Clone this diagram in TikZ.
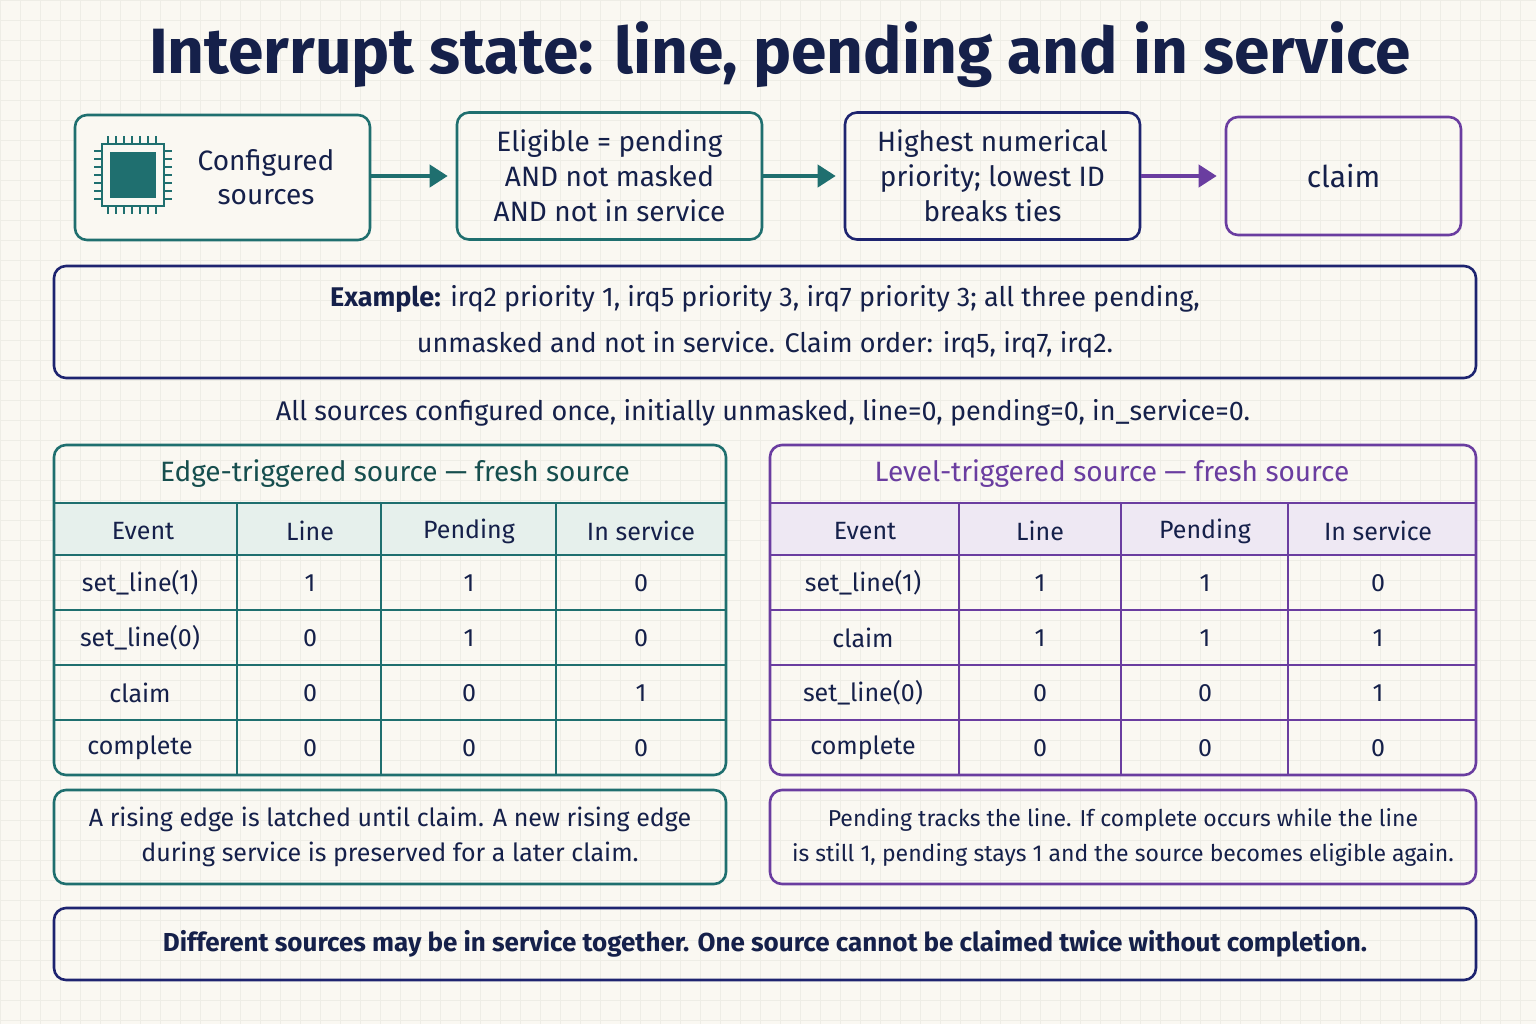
\documentclass[tikz,border=0pt]{standalone}
\usepackage{fontspec}
\setmainfont{Fira Sans}
\usetikzlibrary{arrows.meta}
\definecolor{bg}{HTML}{FAF8F2}
\definecolor{teal}{HTML}{1F6F6F}
\definecolor{navy}{HTML}{1E2470}
\definecolor{purp}{HTML}{6A3DA0}
\definecolor{ink}{HTML}{15204A}
\definecolor{tealfill}{HTML}{E6F0EC}
\definecolor{purfill}{HTML}{EEE8F3}
\definecolor{gridc}{HTML}{EEEDE6}
\tikzset{
 box/.style={draw, line width=1.3pt, rounded corners=6pt},
 txt/.style={text=ink, align=center, font=\fontsize{13}{16}\selectfont, inner sep=0pt},
 arr/.style={line width=2pt, -{Triangle[length=9pt,width=11pt]}},
 cell/.style={text=ink, font=\fontsize{12.5}{15}\selectfont, inner sep=0pt}
}
\begin{document}
\begin{tikzpicture}[x=0.5pt,y=-0.5pt]
\fill[bg] (0,0) rectangle (1536,1024);
\useasboundingbox (0,0) rectangle (1536,1024);
\foreach \i in {0,20,...,1536} \draw[gridc,line width=0.3pt] (\i,0) -- (\i,1024);
\foreach \i in {0,20,...,1024} \draw[gridc,line width=0.3pt] (0,\i) -- (1536,\i);
\node[text=ink,font=\bfseries\fontsize{32}{38}\selectfont] (title) at (780,55) {Interrupt state: line, pending and in service};
% top flow
\draw[box,teal,fill=bg] (75,115) rectangle (370,240);
\coordinate (b1e) at (371,176);
\node[txt,font=\fontsize{14}{17}\selectfont] (b1t) at (266,177) {Configured\\sources};
% chip
\begin{scope}[teal]
\draw[line width=1pt,fill=bg] (102,144) rectangle (164,206);
\fill (110,152) rectangle (156,198);
\foreach \k in {0,...,6}{
 \draw[line width=1pt] (108+\k*8,136) -- (108+\k*8,144);
 \draw[line width=1pt] (108+\k*8,206) -- (108+\k*8,214);
 \draw[line width=1pt] (94,151+\k*8) -- (102,151+\k*8);
 \draw[line width=1pt] (164,151+\k*8) -- (172,151+\k*8);}
\end{scope}
\node[box,teal,minimum width=152.5pt,minimum height=63.5pt,txt,font=\fontsize{14}{17.5}\selectfont] (b2) at (609.5,176) {Eligible = pending\\AND not masked\\AND not in service};
\node[box,navy,minimum width=147.5pt,minimum height=63.5pt,txt,font=\fontsize{14}{17.5}\selectfont] (b3) at (992.5,176) {Highest numerical\\priority; lowest ID\\breaks ties};
\node[box,purp,minimum width=117.5pt,minimum height=59pt,txt,font=\fontsize{15}{18}\selectfont] (b4) at (1343.5,176) {claim};
\draw[arr,teal] (b1e) -- ([xshift=-4pt]b2.west);
\draw[arr,teal] (b2.east) -- ([xshift=-4pt]b3.west);
\draw[arr,purp] (b3.east) -- ([xshift=-4pt]b4.west);
% example
\node[box,navy,minimum width=711pt,minimum height=56pt,txt,font=\fontsize{13.5}{23}\selectfont] (ex) at (765,322) {\textbf{Example:} irq2 priority 1, irq5 priority 3, irq7 priority 3; all three pending,\\unmasked and not in service. Claim order: irq5, irq7, irq2.};
\node[txt,font=\fontsize{13.5}{16}\selectfont] (init) at (763,413) {All sources configured once, initially unmasked, line=0, pending=0, in\_service=0.};
% left table
\begin{scope}
\fill[tealfill] (54,503) rectangle (726,555);
\draw[teal,line width=1.3pt,rounded corners=6pt] (54,445) rectangle (726,775);
\foreach \y in {503,555,610,665,720} \draw[teal,line width=1.1pt] (54,\y) -- (726,\y);
\foreach \x in {237,381,556} \draw[teal,line width=1.1pt] (\x,503) -- (\x,775);
\node[txt,text=teal!70!black,font=\fontsize{14}{17}\selectfont] (lt) at (395,474) {Edge-triggered source — fresh source};
\node[cell] at (143,531) {Event}; \node[cell] at (310,531) {Line};
\node[cell] at (469,531) {Pending}; \node[cell] at (641,531) {In service};
\foreach \a/\b/\c/\d/\y in {set\_line(1)/1/1/0/583, set\_line(0)/0/1/0/638, claim/0/0/1/693, complete/0/0/0/748}{
 \node[cell] at (140,\y) {\a}; \node[cell] at (310,\y) {\b};
 \node[cell] at (469,\y) {\c}; \node[cell] at (641,\y) {\d};}
\end{scope}
% right table
\begin{scope}
\fill[purfill] (770,503) rectangle (1476,555);
\draw[purp,line width=1.3pt,rounded corners=6pt] (770,445) rectangle (1476,775);
\foreach \y in {503,555,610,665,720} \draw[purp,line width=1.1pt] (770,\y) -- (1476,\y);
\foreach \x in {959,1121,1288} \draw[purp,line width=1.1pt] (\x,503) -- (\x,775);
\node[txt,text=purp,font=\fontsize{14}{17}\selectfont] (rt) at (1112,474) {Level-triggered source — fresh source};
\node[cell] at (865,531) {Event}; \node[cell] at (1040,531) {Line};
\node[cell] at (1205,531) {Pending}; \node[cell] at (1378,531) {In service};
\foreach \a/\b/\c/\d/\y in {set\_line(1)/1/1/0/583, claim/1/1/1/638, set\_line(0)/0/0/1/693, complete/0/0/0/748}{
 \node[cell] at (863,\y) {\a}; \node[cell] at (1040,\y) {\b};
 \node[cell] at (1205,\y) {\c}; \node[cell] at (1378,\y) {\d};}
\end{scope}
% notes
\node[box,teal,minimum width=336pt,minimum height=47pt,txt,font=\fontsize{12.5}{17.5}\selectfont] (n1) at (390,837) {A rising edge is latched until claim. A new rising edge\\during service is preserved for a later claim.};
\node[box,purp,minimum width=353pt,minimum height=47pt,txt,font=\fontsize{11.5}{17.5}\selectfont] (n2) at (1123,837) {Pending tracks the line. If complete occurs while the line\\is still 1, pending stays 1 and the source becomes eligible again.};
\node[box,navy,minimum width=711pt,minimum height=36pt,txt,font=\bfseries\fontsize{13}{16}\selectfont] (bot) at (765,944) {Different sources may be in service together. One source cannot be claimed twice without completion.};
\end{tikzpicture}
\end{document}
